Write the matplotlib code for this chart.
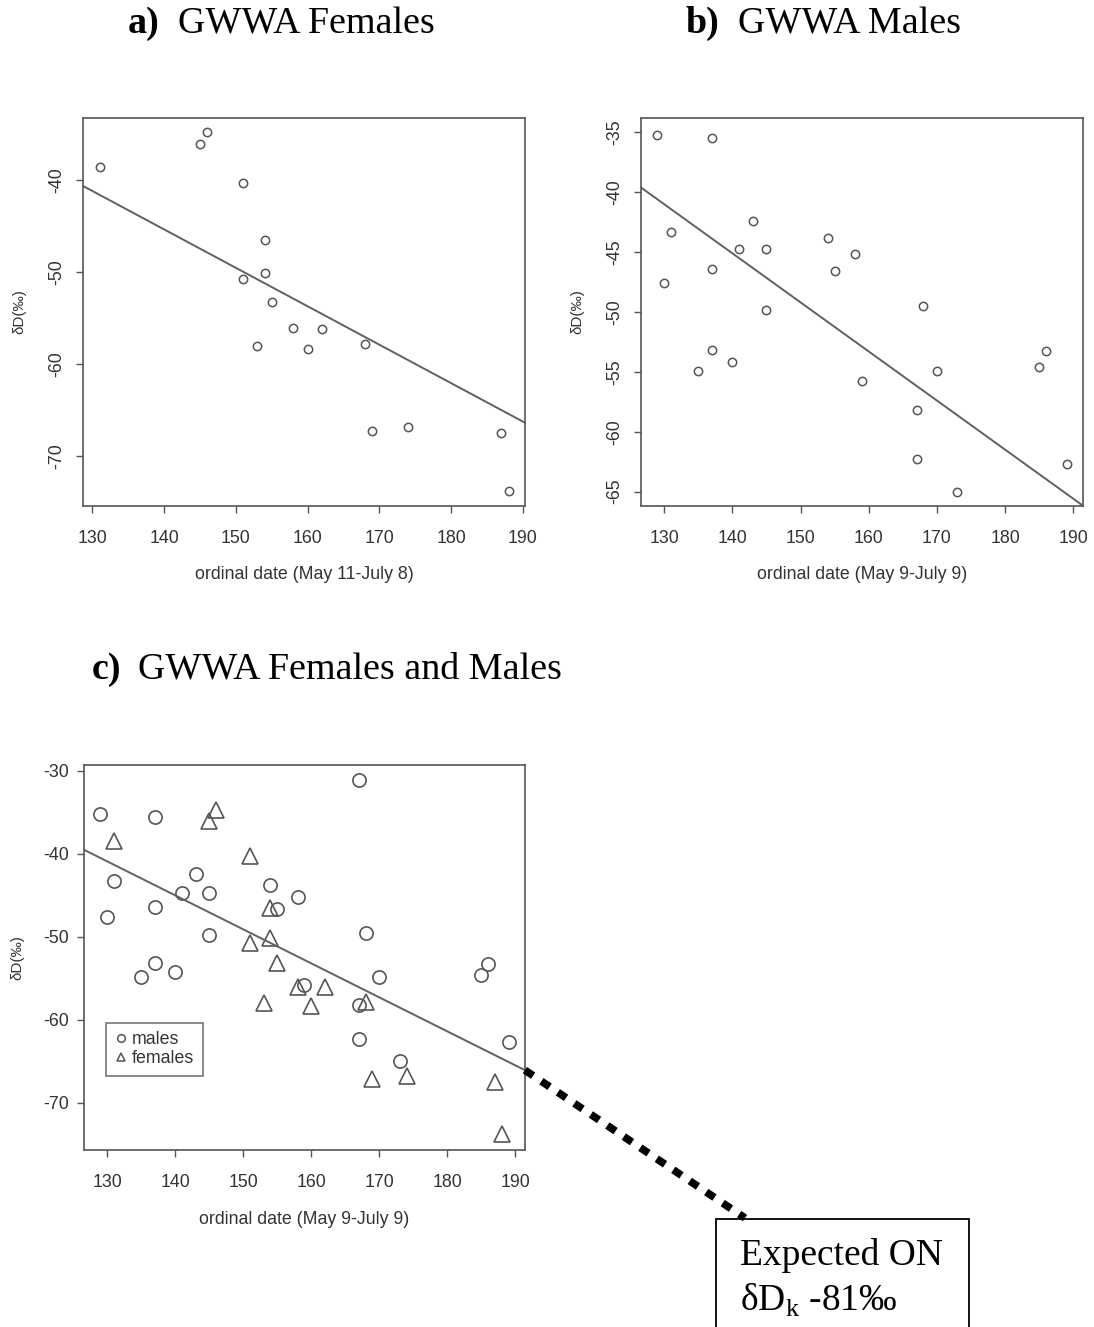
import numpy as np
import matplotlib
matplotlib.use("Agg")
import matplotlib.pyplot as plt
from matplotlib.patches import Rectangle, ConnectionPatch
from matplotlib.lines import Line2D

plt.rcParams['axes.unicode_minus'] = False

# females (ordinal date, dD)
fem_x = [131, 145, 146, 151, 154, 154, 151, 155, 153, 158, 160, 162, 168, 169, 174, 187, 188]
fem_y = [-38.5, -36.0, -34.7, -40.3, -46.5, -50.1, -50.7, -53.2, -58.0, -56.0, -58.3, -56.1,
         -57.8, -67.2, -66.8, -67.5, -73.8]

# males (ordinal date, dD)
male_x = [129, 137, 131, 130, 137, 141, 143, 145, 145, 137, 135, 140, 154, 155, 158, 159,
          168, 170, 167, 167, 173, 189, 185, 186]
male_y = [-35.2, -35.5, -43.3, -47.6, -46.4, -44.7, -42.4, -44.7, -49.8, -53.2, -54.9, -54.2,
          -43.8, -46.6, -45.2, -55.8, -49.5, -54.9, -58.2, -62.3, -65.0, -62.7, -54.6, -53.3]

# extra male only in combined panel
extra_male_x = [167]
extra_male_y = [-31.1]

# regression lines (intercept, slope)
fit_fem = (13.2, -0.418)
fit_male = (12.3, -0.41)
fit_all = (12.4, -0.41)

grey = '#555555'
txt = '#333333'
sans = 'Liberation Sans'
serif = 'Liberation Serif'

fig = plt.figure(figsize=(10.94, 13.27), dpi=100)


def r_style(ax, xlim, ylim, yticks, rot_y=True):
    ax.set_xlim(*xlim)
    ax.set_ylim(*ylim)
    ax.set_xticks(np.arange(130, 191, 10))
    ax.set_yticks(yticks)
    for s in ax.spines.values():
        s.set_color(grey)
        s.set_linewidth(1.2)
    ax.tick_params(direction='out', length=5, width=1.0, color=grey,
                   labelcolor=txt, labelsize=12.8)
    ax.tick_params(axis='x', pad=12.5)
    for lab in ax.get_xticklabels() + ax.get_yticklabels():
        lab.set_family(sans)
    if rot_y:
        for lab in ax.get_yticklabels():
            lab.set_rotation(90)
            lab.set_va('center')
        ax.tick_params(axis='y', pad=8)
    else:
        ax.tick_params(axis='y', pad=6)


def fit_line(ax, fit):
    xl = np.array(ax.get_xlim())
    ax.plot(xl, fit[0] + fit[1] * xl, color='#606060', lw=1.4, zorder=2)


# a) females
ax_a = fig.add_axes([0.0759, 0.6187, 0.404, 0.2924])
ax_a.plot(fem_x, fem_y, 'o', ms=6, mfc='none', mec=grey, mew=1.1)
r_style(ax_a, (128.7, 190.3), (-75.4, -33.2), [-40, -50, -60, -70])
fit_line(ax_a, fit_fem)
ax_a.set_xlabel('ordinal date (May 11-July 8)', family=sans, fontsize=12.8, color=txt)
ax_a.set_ylabel('δD(‰)', family=sans, fontsize=11, color=txt)
ax_a.xaxis.set_label_coords(0.5, -0.155)
ax_a.yaxis.set_label_coords(-0.129, 0.5)

# b) males
ax_b = fig.add_axes([0.5859, 0.6187, 0.404, 0.2924])
ax_b.plot(male_x, male_y, 'o', ms=6, mfc='none', mec=grey, mew=1.1)
r_style(ax_b, (126.6, 191.4), (-66.2, -33.8), [-35, -40, -45, -50, -55, -60, -65])
fit_line(ax_b, fit_male)
ax_b.set_xlabel('ordinal date (May 9-July 9)', family=sans, fontsize=12.8, color=txt)
ax_b.set_ylabel('δD(‰)', family=sans, fontsize=11, color=txt)
ax_b.xaxis.set_label_coords(0.5, -0.155)
ax_b.yaxis.set_label_coords(-0.129, 0.5)

# c) combined
ax_c = fig.add_axes([0.0768, 0.1334, 0.403, 0.290])
ax_c.plot(male_x + extra_male_x, male_y + extra_male_y, 'o', ms=9.5, mfc='none',
          mec=grey, mew=1.2)
ax_c.plot(fem_x, fem_y, '^', ms=11, mfc='none', mec=grey, mew=1.2)
r_style(ax_c, (126.6, 191.4), (-75.7, -29.3), [-30, -40, -50, -60, -70], rot_y=False)
fit_line(ax_c, fit_all)
ax_c.set_xlabel('ordinal date (May 9-July 9)', family=sans, fontsize=12.8, color=txt)
ax_c.set_ylabel('δD(‰)', family=sans, fontsize=11, color=txt)
ax_c.xaxis.set_label_coords(0.5, -0.158)
ax_c.yaxis.set_label_coords(-0.136, 0.5)

handles = [Line2D([], [], marker='o', ls='none', ms=5.5, mfc='none', mec=grey, mew=1.1),
           Line2D([], [], marker='^', ls='none', ms=6, mfc='none', mec=grey, mew=1.1)]
leg = ax_c.legend(handles, ['males', 'females'], loc='lower left',
                  bbox_to_anchor=(0.05, 0.192), frameon=True, fancybox=False,
                  prop={'family': sans, 'size': 12.8}, handlelength=0.7,
                  handletextpad=0.25, borderpad=0.5, labelspacing=0.1,
                  borderaxespad=0)
leg.get_frame().set_edgecolor(grey)
leg.get_frame().set_linewidth(1.2)
for t in leg.get_texts():
    t.set_color(txt)

# titles
fs_t = 27.4
fig.text(0.117, 0.982, 'a)', family=serif, weight='bold', fontsize=fs_t, va='center')
fig.text(0.1627, 0.982, 'GWWA Females', family=serif, fontsize=fs_t, va='center')
fig.text(0.627, 0.982, 'b)', family=serif, weight='bold', fontsize=fs_t, va='center')
fig.text(0.6746, 0.982, 'GWWA Males', family=serif, fontsize=fs_t, va='center')
fig.text(0.0841, 0.4955, 'c)', family=serif, weight='bold', fontsize=fs_t, va='center')
fig.text(0.1261, 0.4955, 'GWWA Females and Males', family=serif, fontsize=fs_t, va='center')

# dotted extension to expected value box
x_end = ax_c.get_xlim()[1]
con = ConnectionPatch(xyA=(x_end, fit_all[0] + fit_all[1] * x_end), coordsA=ax_c.transData,
                      xyB=(0.681, 0.0821), coordsB=fig.transFigure,
                      arrowstyle='-', color='black', lw=5.5,
                      linestyle=(0, (1.3, 1.3)), capstyle='butt')
fig.add_artist(con)

box = Rectangle((0.6545, -0.05), 0.2313, 0.1314, transform=fig.transFigure,
                fill=False, edgecolor='black', lw=1.3)
fig.add_artist(box)
fig.text(0.676, 0.054, 'Expected ON', family=serif, fontsize=27, va='center')
fig.text(0.676, 0.0204, r'δD$_\mathregular{k}$ -81‰', family=serif, fontsize=27,
         va='center')

fig.savefig('out.png', dpi=100)
